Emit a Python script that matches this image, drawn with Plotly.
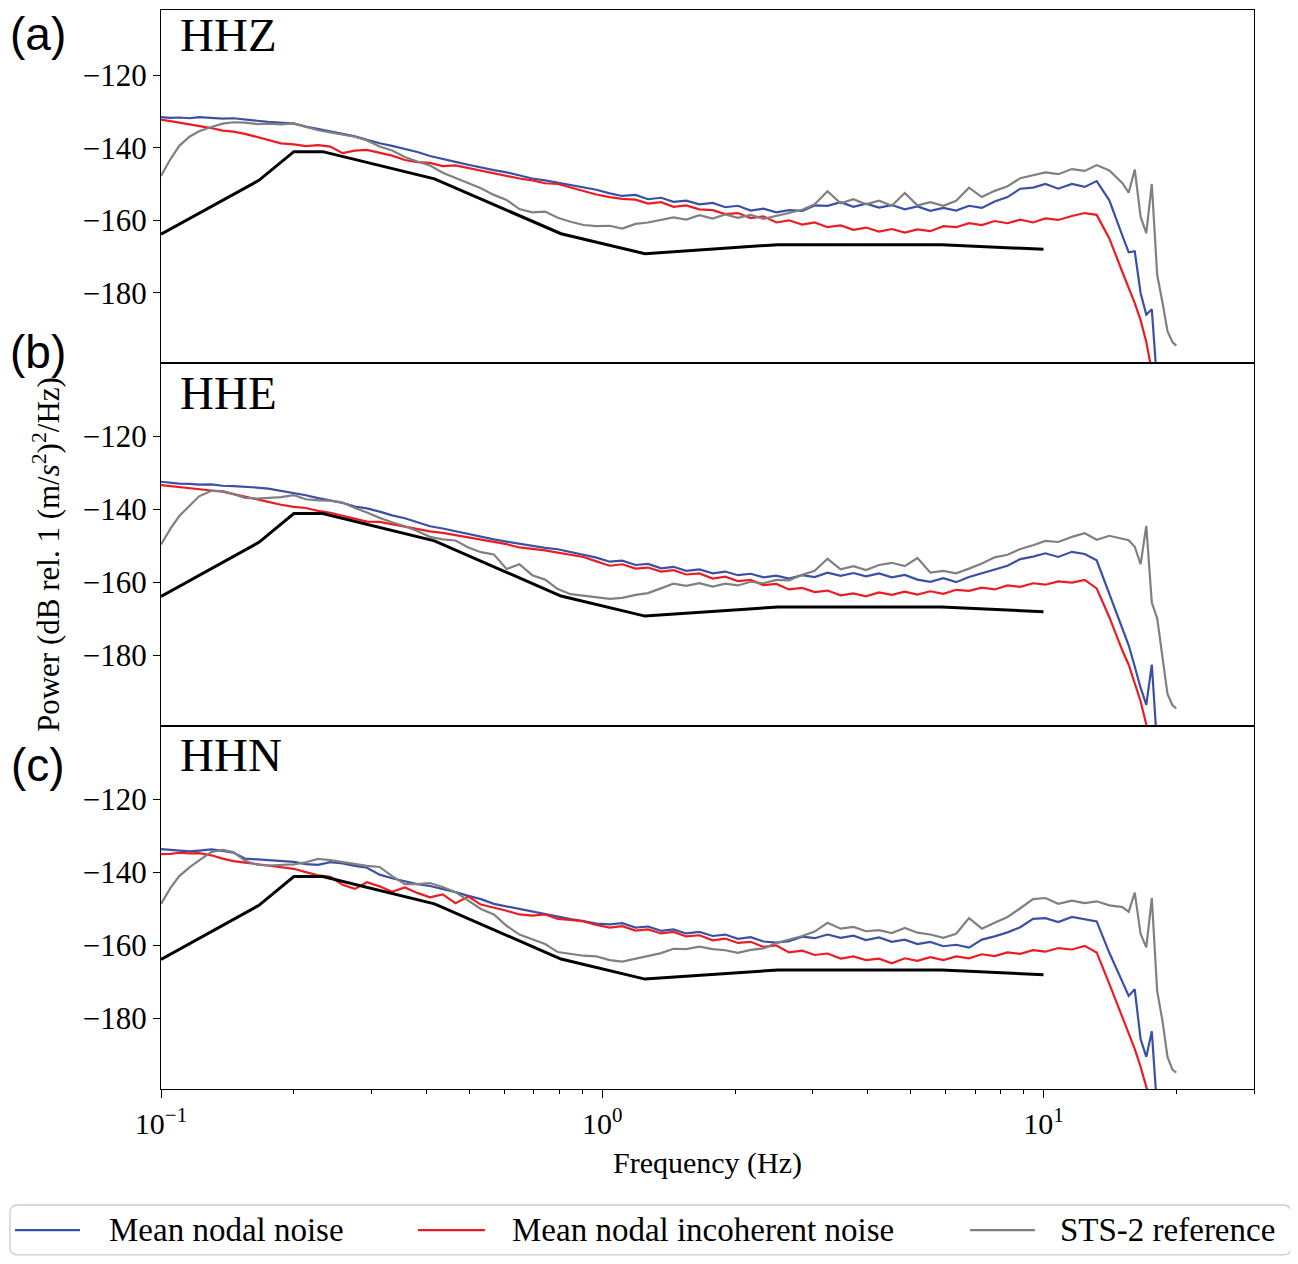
import plotly.graph_objects as go
from plotly.subplots import make_subplots

# frequency grid (Hz) shared by all measured curves
FREQ = [0.100, 0.105, 0.110, 0.116, 0.122, 0.130, 0.138, 0.146, 0.155, 0.165,
        0.175, 0.187, 0.200, 0.213, 0.227, 0.242, 0.258, 0.275, 0.293, 0.313,
        0.334, 0.357, 0.381, 0.407, 0.435, 0.465, 0.497, 0.531, 0.568, 0.607,
        0.649, 0.694, 0.742, 0.793, 0.848, 0.907, 0.970,
        1.04, 1.11, 1.19, 1.27, 1.36, 1.45, 1.55, 1.66, 1.78, 1.90,
        2.03, 2.17, 2.32, 2.48, 2.65, 2.84, 3.03, 3.24, 3.47, 3.71,
        3.96, 4.24, 4.53, 4.85, 5.18, 5.54, 5.93, 6.34, 6.78, 7.25,
        7.75, 8.29, 8.86, 9.47, 10.1, 10.8, 11.6, 12.4, 13.2, 14.1,
        15.1, 15.6, 16.1, 16.6, 17.1, 17.6, 18.1, 18.6, 19.1, 19.6, 20.0]

# Peterson new low noise model
NLNM_FREQ = [0.1, 0.1667, 0.2, 0.2326, 0.4167, 0.8065, 1.25, 2.5, 5.882, 10.0]
NLNM_DB = [-163.8, -149.0, -141.1, -141.1, -148.6, -163.7, -169.2, -166.7, -166.7, -168.0]

# HHZ
HHZ_NODAL = [-131.6, -131.8, -131.7, -131.9, -131.6, -131.8, -132.0, -131.9, -132.3, -132.6,
             -132.9, -133.2, -133.4, -134.2, -134.8, -135.5, -136.2, -136.9, -137.8, -138.8,
             -139.5, -140.3, -141.2, -142.3, -143.0, -143.9, -144.7, -145.5, -146.2, -146.8,
             -147.7, -148.5, -149.0, -149.6, -150.2, -151.0, -151.6,
             -152.6, -153.3, -153.0, -154.2, -153.8, -154.9, -154.6, -155.6, -155.2, -156.4,
             -156.0, -157.3, -156.8, -157.8, -157.2, -157.4, -155.9, -156.0, -155.0, -156.3,
             -155.4, -156.5, -155.8, -157.0, -156.2, -157.4, -156.6, -157.3, -156.0, -156.6,
             -154.8, -153.6, -151.3, -151.0, -150.0, -151.3, -150.0, -150.8, -149.2, -154.5,
             -164.3, -168.8, -168.5, -180.0, -186.0, -184.5, -205.0, None, None, None, None]
HHZ_INCOH = [-132.3, -132.8, -133.1, -133.6, -134.0, -134.6, -135.3, -135.6, -136.2, -137.0,
             -137.8, -138.8, -139.1, -139.6, -139.3, -139.7, -141.5, -140.8, -140.6, -141.5,
             -142.2, -143.4, -144.0, -144.2, -145.1, -144.9, -145.6, -146.3, -147.0, -147.9,
             -148.5, -149.0, -149.8, -150.0, -151.0, -151.8, -152.9,
             -153.6, -154.1, -154.3, -155.4, -155.0, -156.3, -155.9, -157.0, -157.2, -158.3,
             -158.0, -159.4, -158.9, -160.6, -160.0, -161.2, -160.6, -161.9, -161.4, -162.6,
             -162.0, -163.1, -162.4, -163.4, -162.5, -163.0, -161.6, -161.9, -160.8, -161.3,
             -160.2, -160.8, -159.8, -160.6, -159.5, -159.9, -158.8, -158.0, -158.5, -165.0,
             -174.3, -178.5, -182.8, -187.5, -193.5, -201.5, None, None, None, None, None]
HHZ_STS2 = [-147.8, -143.2, -139.5, -137.0, -135.5, -134.3, -133.4, -133.0, -133.1, -133.5,
            -133.4, -133.6, -133.3, -134.3, -135.2, -135.8, -136.4, -137.0, -138.0, -139.7,
            -140.8, -142.6, -143.8, -144.9, -146.9, -148.3, -149.6, -151.2, -153.0, -154.4,
            -156.9, -157.8, -157.6, -159.3, -160.4, -161.3, -161.6,
            -161.5, -162.3, -161.0, -160.6, -159.9, -159.2, -159.8, -158.6, -159.5, -158.4,
            -159.3, -158.5, -159.6, -158.9, -158.0, -157.1, -155.6, -152.0, -155.3, -154.2,
            -155.6, -154.6, -156.0, -152.5, -155.9, -155.0, -156.0, -154.6, -151.0, -153.6,
            -151.9, -150.6, -148.4, -147.6, -146.8, -147.3, -145.9, -146.4, -144.8, -146.3,
            -149.8, -152.4, -146.0, -159.0, -163.5, -150.0, -175.0, -182.5, -190.5, -193.5, -194.5]

# HHE
HHE_NODAL = [-132.4, -132.7, -132.9, -133.0, -133.2, -133.1, -133.5, -133.6, -133.7, -134.0,
             -134.3, -134.9, -135.6, -136.1, -136.9, -137.5, -138.2, -139.2, -139.7, -140.6,
             -141.6, -142.4, -143.5, -144.6, -145.2, -146.0, -146.7, -147.4, -148.2, -148.8,
             -149.4, -149.9, -150.5, -150.9, -151.7, -152.4, -153.2,
             -154.3, -154.0, -155.2, -154.9, -156.1, -155.7, -156.8, -156.4, -157.5, -157.0,
             -158.0, -157.6, -158.6, -158.1, -158.9, -158.0, -158.5, -157.3, -158.2, -157.4,
             -158.3, -157.5, -158.6, -157.9, -159.2, -159.8, -158.8, -159.9, -158.5, -157.5,
             -156.3, -155.4, -153.6, -152.9, -152.0, -153.0, -151.6, -152.2, -153.9, -163.0,
             -172.5, -177.2, -183.0, -188.8, -193.5, -182.5, -205.0, None, None, None, None]
HHE_INCOH = [-133.3, -133.6, -133.9, -134.2, -134.6, -134.8, -135.1, -135.8, -136.6, -137.3,
             -137.9, -138.7, -139.3, -139.6, -140.4, -140.9, -141.7, -142.6, -143.3, -143.4,
             -144.0, -144.6, -145.2, -146.0, -146.4, -147.0, -147.7, -148.3, -148.8, -149.5,
             -150.4, -150.7, -151.2, -151.8, -152.4, -153.0, -154.2,
             -155.4, -155.0, -156.2, -155.9, -157.0, -156.6, -157.8, -157.5, -158.9, -158.4,
             -159.6, -159.3, -160.7, -160.4, -161.9, -161.5, -162.6, -162.2, -163.5, -163.0,
             -163.8, -162.7, -163.4, -162.5, -163.3, -162.4, -163.1, -162.0, -162.3, -161.4,
             -161.9, -160.8, -161.2, -160.2, -160.6, -159.7, -160.0, -159.3, -161.6, -169.5,
             -178.7, -182.5, -187.5, -192.5, -198.9, -204.0, None, None, None, None, None]
HHE_STS2 = [-149.6, -145.3, -141.8, -139.0, -136.4, -134.9, -135.0, -135.8, -136.8, -137.0,
            -136.8, -136.6, -136.1, -137.2, -137.5, -137.6, -138.1, -139.6, -140.8, -142.3,
            -143.5, -144.6, -145.9, -147.5, -148.2, -148.5, -150.4, -151.7, -152.3, -156.3,
            -155.0, -158.0, -159.2, -161.8, -163.2, -163.6, -164.2,
            -164.5, -164.2, -163.4, -162.9, -161.5, -160.3, -160.9, -160.2, -161.1, -160.3,
            -160.8, -159.8, -160.2, -159.3, -159.4, -157.9, -156.8, -153.5, -156.4, -155.5,
            -156.6, -155.2, -154.6, -155.5, -153.3, -157.3, -156.8, -157.5, -156.2, -154.8,
            -153.1, -152.4, -150.8, -149.8, -148.6, -148.9, -147.5, -146.5, -148.3, -147.2,
            -148.0, -148.4, -150.2, -155.0, -144.5, -165.5, -169.8, -181.0, -190.5, -193.6, -194.5]

# HHN
HHN_NODAL = [-133.6, -133.8, -134.0, -134.2, -134.0, -133.7, -134.1, -134.6, -136.2, -136.4,
             -136.6, -136.8, -137.1, -137.7, -137.9, -137.2, -137.5, -138.2, -138.7, -140.6,
             -141.6, -142.4, -143.2, -143.7, -144.5, -145.4, -146.4, -147.3, -148.6, -149.3,
             -150.1, -150.9, -151.6, -152.3, -152.8, -153.3, -154.0,
             -154.2, -153.9, -155.1, -154.8, -156.0, -155.6, -156.7, -156.3, -157.4, -157.0,
             -158.2, -157.7, -158.9, -159.2, -158.8, -157.6, -158.0, -157.0, -157.9, -157.3,
             -158.5, -157.8, -159.0, -158.4, -159.6, -159.0, -160.2, -159.8, -160.6, -158.4,
             -157.5, -156.4, -155.0, -152.7, -152.5, -153.6, -152.2, -152.8, -153.4, -162.0,
             -170.2, -173.8, -172.0, -185.6, -190.5, -183.5, -205.0, None, None, None, None]
HHN_INCOH = [-135.0, -134.9, -134.6, -134.8, -134.7, -135.3, -136.2, -136.9, -137.3, -137.7,
             -138.2, -138.5, -139.0, -139.9, -140.8, -141.2, -143.4, -144.5, -142.7, -143.8,
             -145.3, -144.1, -145.6, -146.8, -146.0, -148.4, -146.6, -148.8, -149.6, -150.5,
             -151.5, -151.8, -151.5, -152.7, -153.0, -153.4, -154.4,
             -155.1, -154.7, -155.9, -155.6, -156.7, -156.3, -157.5, -157.2, -158.6, -158.1,
             -159.3, -159.0, -160.4, -160.0, -161.9, -161.4, -162.6, -162.2, -163.6, -163.0,
             -164.0, -163.6, -164.9, -163.5, -164.2, -163.2, -164.0, -163.0, -163.5, -162.4,
             -162.9, -161.9, -162.3, -161.3, -161.7, -160.7, -161.1, -160.1, -161.9, -170.5,
             -179.6, -183.8, -188.3, -193.2, -198.8, -204.0, None, None, None, None, None]
HHN_STS2 = [-148.6, -144.3, -141.0, -138.6, -136.7, -134.4, -133.8, -134.4, -136.8, -137.9,
            -138.1, -138.0, -137.8, -137.2, -136.3, -136.6, -137.2, -137.7, -138.2, -138.5,
            -141.0, -143.2, -143.2, -142.9, -144.0, -145.4, -147.7, -150.0, -151.5, -154.6,
            -157.0, -158.4, -159.6, -161.8, -162.3, -162.8, -163.0,
            -164.0, -164.4, -163.6, -162.9, -162.1, -160.9, -161.0, -160.3, -161.0, -161.3,
            -162.0, -161.2, -160.8, -159.3, -158.4, -157.4, -156.2, -153.8, -155.4, -154.9,
            -156.1, -155.8, -156.6, -155.2, -156.5, -157.0, -157.9, -156.8, -152.5, -155.4,
            -153.8, -152.2, -149.8, -147.3, -147.0, -148.6, -147.7, -148.4, -147.9, -149.0,
            -149.5, -150.8, -145.5, -156.8, -160.5, -147.0, -172.5, -180.5, -190.5, -194.0, -194.8]

CHANNELS = ["HHZ", "HHE", "HHN"]
PANEL_TAGS = ["(a)", "(b)", "(c)"]
SERIES_NAMES = ["Mean nodal noise", "Mean nodal incoherent noise", "STS-2 reference"]
Y_TICKS = [-180, -160, -140, -120]
X_TICKS = [0.1, 1, 10]
X_TICKTEXT = ["10<sup>\u22121</sup>", "10<sup>0</sup>", "10<sup>1</sup>"]
X_MINOR = [0.2, 0.3, 0.4, 0.5, 0.6, 0.7, 0.8, 0.9, 2, 3, 4, 5, 6, 7, 8, 9, 20, 30]

data = {
    "HHZ": [HHZ_NODAL, HHZ_INCOH, HHZ_STS2],
    "HHE": [HHE_NODAL, HHE_INCOH, HHE_STS2],
    "HHN": [HHN_NODAL, HHN_INCOH, HHN_STS2],
}
for ch in CHANNELS:
    for s in data[ch]:
        assert len(s) == len(FREQ), (ch, len(s))

BLUE = "#3a50a4"
RED = "#ed1c24"
GRAY = "#808080"
colors = [BLUE, RED, GRAY]
SERIF = "Liberation Serif"
SANS = "Liberation Sans"

fig = make_subplots(rows=3, cols=1, shared_xaxes=True, vertical_spacing=0)

for i, ch in enumerate(CHANNELS):
    row = i + 1
    for name, ys, col in zip(SERIES_NAMES, data[ch], colors):
        fig.add_trace(go.Scatter(x=FREQ, y=ys, mode="lines", name=name,
                                 line=dict(color=col, width=2.2),
                                 showlegend=False, connectgaps=False), row=row, col=1)
    fig.add_trace(go.Scatter(x=NLNM_FREQ, y=NLNM_DB, mode="lines", name="NLNM",
                             line=dict(color="black", width=3), showlegend=False),
                  row=row, col=1)

# the page adds an 8px body margin; the top panel is a little shorter so the
# panel joins and ticks still land where the reference has them
domains = [[0.6728, 1.0], [0.3364, 0.6728], [0.0, 0.3364]]
ranges = [[-199.3, -102.1], [-199.3, -99.9], [-199.3, -99.9]]

axis_common = dict(showline=True, mirror=True, linecolor="black", linewidth=1.3,
                   showgrid=False, zeroline=False)
for row in (1, 2, 3):
    fig.update_xaxes(type="log", range=[-1, 1.4771], row=row, col=1, **axis_common)
    fig.update_yaxes(domain=domains[row - 1], range=ranges[row - 1], tickvals=Y_TICKS,
                     ticktext=["\u2212" + str(abs(v)) for v in Y_TICKS],
                     ticks="outside", ticklen=7, tickwidth=1.3, tickcolor="black",
                     tickfont=dict(family=SERIF, size=31, color="black"),
                     row=row, col=1, **axis_common)

fig.update_xaxes(showticklabels=False, ticks="", row=1, col=1)
fig.update_xaxes(showticklabels=False, ticks="", row=2, col=1)
fig.update_xaxes(tickvals=X_TICKS, ticktext=X_TICKTEXT, ticks="outside", ticklen=8,
                 tickwidth=1.3, tickcolor="black",
                 tickfont=dict(family=SERIF, size=30, color="black"),
                 minor=dict(tickvals=X_MINOR, ticks="outside", ticklen=4,
                            tickwidth=1, tickcolor="black"),
                 title=dict(text="Frequency (Hz)", standoff=12,
                            font=dict(family=SERIF, size=30, color="black")),
                 row=3, col=1)

# panel titles and tags
title_y = [0.9768, 0.6450, 0.3095]
tag_y = [0.9778, 0.6830, 0.3003]
for ch, ty, tag, gy in zip(CHANNELS, title_y, PANEL_TAGS, tag_y):
    fig.add_annotation(text=ch, xref="paper", yref="paper", x=0.0156, y=ty,
                       xanchor="left", yanchor="middle", showarrow=False,
                       font=dict(family=SERIF, size=47, color="black"))
    fig.add_annotation(text=tag, xref="paper", yref="paper", x=-0.1125, y=gy,
                       xanchor="center", yanchor="middle", showarrow=False,
                       font=dict(family=SANS, size=46, color="black"))

fig.add_annotation(text="Power (dB rel. 1 (m/<i>s</i><sup>2</sup>)<sup>2</sup>/Hz)",
                   xref="paper", yref="paper", x=-0.1052, y=0.4949, textangle=-90,
                   xanchor="center", yanchor="middle", showarrow=False,
                   font=dict(family=SERIF, size=31, color="black"))

# legend box drawn below the plot
bx0, bx1, by0, by1 = -0.1382, 1.0338, -0.1538, -0.1075
r = 0.0073
fig.add_shape(type="path", xref="paper", yref="paper",
              path=(f"M {bx0 + r},{by0} L {bx1 - r},{by0} Q {bx1},{by0} {bx1},{by0 + r} "
                    f"L {bx1},{by1 - r} Q {bx1},{by1} {bx1 - r},{by1} "
                    f"L {bx0 + r},{by1} Q {bx0},{by1} {bx0},{by1 - r} "
                    f"L {bx0},{by0 + r} Q {bx0},{by0} {bx0 + r},{by0} Z"),
              line=dict(color="#cccccc", width=1.3), fillcolor="white", layer="below")
leg_y = -0.1307
leg_lines = [(-0.1336, -0.0741), (0.2351, 0.2964), (0.7402, 0.7996)]
leg_text_x = [-0.0494, 0.3193, 0.8207]
for (lx0, lx1), tx, name, col in zip(leg_lines, leg_text_x, SERIES_NAMES, colors):
    fig.add_shape(type="line", xref="paper", yref="paper", x0=lx0, x1=lx1, y0=leg_y, y1=leg_y,
                  line=dict(color=col, width=2.2))
    fig.add_annotation(text=name, xref="paper", yref="paper", x=tx, y=leg_y,
                       xanchor="left", yanchor="middle", showarrow=False,
                       font=dict(family=SERIF, size=33, color="black"))

fig.update_layout(width=1290, height=1248, margin=dict(l=153, r=44, t=2, b=167),
                  plot_bgcolor="white", paper_bgcolor="white", showlegend=False)

fig.write_html("out.html")
